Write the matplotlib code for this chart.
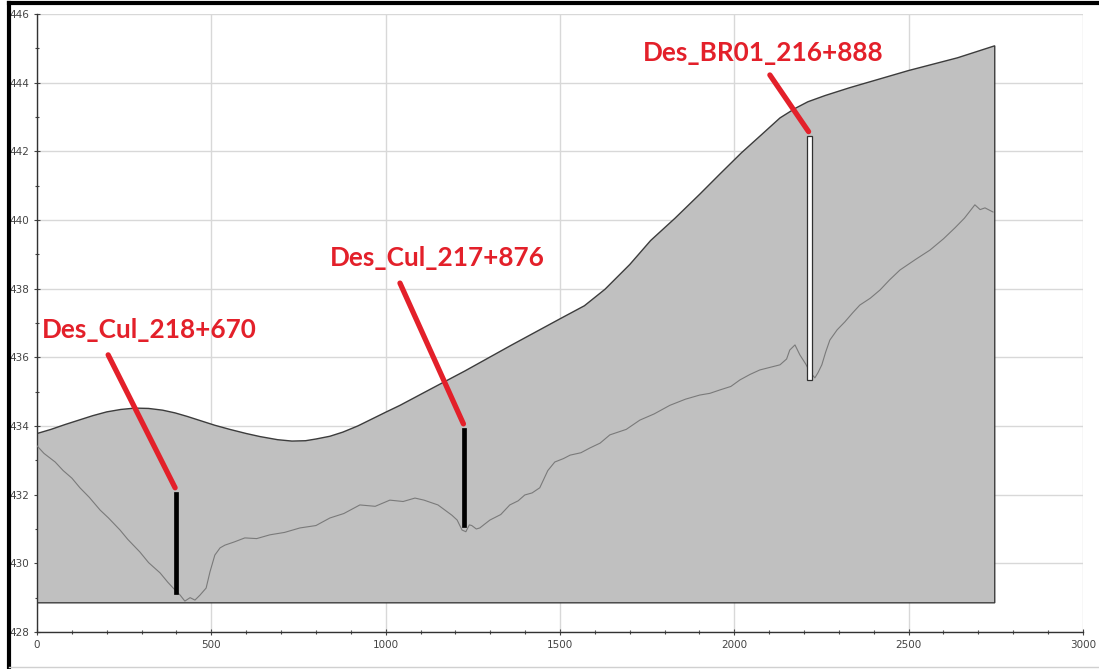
import numpy as np
import matplotlib.pyplot as plt
from matplotlib.lines import Line2D

# design surface (top of the grey section)
surf_x = [0, 40, 80, 123, 160, 200, 240, 281, 320, 360, 396, 430, 470, 510,
          553, 600, 640, 690, 731, 770, 800, 840, 877, 920, 960, 1000, 1041,
          1130, 1227, 1360, 1500, 1570, 1629, 1700, 1760, 1830, 1901, 1960,
          2020, 2080, 2131, 2175, 2211, 2260, 2331, 2500, 2640, 2747]
surf_y = [433.78, 433.90, 434.04, 434.18, 434.30, 434.41, 434.48, 434.52,
          434.51, 434.46, 434.38, 434.28, 434.15, 434.02, 433.90, 433.78,
          433.69, 433.60, 433.56, 433.57, 433.62, 433.70, 433.82, 434.00,
          434.20, 434.40, 434.60, 435.08, 435.60, 436.35, 437.12, 437.50,
          437.98, 438.70, 439.40, 440.05, 440.75, 441.35, 441.95, 442.50,
          442.97, 443.25, 443.44, 443.62, 443.85, 444.35, 444.72, 445.07]
base_level = 428.85

# natural ground line
ground_x = [0, 20, 52, 75, 100, 123, 150, 181, 205, 238, 260, 295, 320, 353,
            375, 396, 410, 424, 439, 453, 467, 485, 496, 510, 525, 539, 565,
            596, 630, 668, 710, 754, 800, 840, 880, 926, 970, 1012, 1050,
            1084, 1110, 1127, 1150, 1170, 1190, 1205, 1219, 1230, 1240, 1247,
            1260, 1270, 1285, 1299, 1330, 1356, 1380, 1399, 1420, 1442, 1465,
            1485, 1510, 1529, 1560, 1586, 1615, 1643, 1690, 1729, 1770, 1815,
            1860, 1901, 1930, 1959, 1990, 2016, 2045, 2073, 2100, 2131, 2150,
            2159, 2174, 2188, 2205, 2217, 2231, 2240, 2251, 2262, 2274, 2295,
            2317, 2340, 2360, 2390, 2418, 2445, 2475, 2520, 2561, 2600, 2633,
            2660, 2690, 2705, 2719, 2742]
ground_y = [433.42, 433.20, 432.95, 432.70, 432.48, 432.20, 431.92, 431.55,
            431.32, 430.97, 430.70, 430.33, 430.02, 429.72, 429.45, 429.22,
            429.08, 428.90, 429.00, 428.93, 429.07, 429.28, 429.75, 430.24,
            430.45, 430.53, 430.62, 430.74, 430.72, 430.83, 430.90, 431.03,
            431.10, 431.32, 431.45, 431.70, 431.66, 431.84, 431.80, 431.90,
            431.84, 431.78, 431.70, 431.55, 431.40, 431.26, 430.97, 430.92,
            431.12, 431.10, 431.00, 431.03, 431.15, 431.26, 431.42, 431.70,
            431.82, 431.99, 432.05, 432.20, 432.70, 432.95, 433.05, 433.15,
            433.22, 433.36, 433.50, 433.74, 433.90, 434.17, 434.35, 434.60,
            434.78, 434.90, 434.95, 435.05, 435.15, 435.34, 435.50, 435.63,
            435.70, 435.78, 435.95, 436.21, 436.36, 436.07, 435.80, 435.57,
            435.40, 435.55, 435.78, 436.15, 436.50, 436.80, 437.03, 437.30,
            437.52, 437.72, 437.96, 438.25, 438.54, 438.85, 439.12, 439.45,
            439.77, 440.05, 440.44, 440.30, 440.35, 440.23]

# drainage / bridge structures
struct_names = ['Des_Cul_218+670', 'Des_Cul_217+876', 'Des_BR01_216+888']
struct_x = [398, 1225, 2215]
struct_top = [432.08, 433.94, 442.45]
struct_bottom = [429.10, 431.06, 435.35]

fig = plt.figure(figsize=(10.99, 6.69), dpi=100)
ax = fig.add_axes([0.0337, 0.0553, 0.9517, 0.924])

ax.set_axisbelow(True)
ax.grid(True, which='major', color='#d8d8d8', linewidth=1.0, zorder=0)

poly_x = [0] + surf_x + [surf_x[-1], 0]
poly_y = [surf_y[0]] + surf_y + [base_level, base_level]
ax.fill(poly_x, poly_y, facecolor='#c0c0c0', edgecolor='#3c3c3c',
        linewidth=1.0, zorder=2)

ax.plot(ground_x, ground_y, color='#7a7a7a', linewidth=0.8, zorder=3)

# culverts as solid black bars, bridge as white bar with black outline
for i, name in enumerate(struct_names):
    h = struct_top[i] - struct_bottom[i]
    if 'BR' in name:
        ax.bar(struct_x[i], h, bottom=struct_bottom[i], width=14,
               color='white', edgecolor='#303030', linewidth=0.9, zorder=4)
    else:
        ax.bar(struct_x[i], h, bottom=struct_bottom[i], width=11,
               color='black', edgecolor='black', linewidth=0.5, zorder=4)

# red callouts
label_pos = [(14, 436.8), (840, 438.9), (1738, 444.86)]
leader_start = [(204, 436.07), (1041, 438.16), (2102, 444.22)]
red = '#e3202a'
for i, name in enumerate(struct_names):
    ax.text(label_pos[i][0], label_pos[i][1], name, color=red,
            fontsize=18.8, fontweight='bold', family=['Lato', 'DejaVu Sans'],
            ha='left', va='center', zorder=6)
    ax.plot([leader_start[i][0], struct_x[i] - 2],
            [leader_start[i][1], struct_top[i] + 0.12],
            color=red, linewidth=3.8, solid_capstyle='round', zorder=5)

ax.set_xlim(0, 3000)
ax.set_ylim(428, 446)
ax.set_xticks(np.arange(0, 3001, 500))
ax.set_xticks(np.arange(0, 3001, 100), minor=True)
ax.set_yticks(np.arange(428, 447, 2))
ax.set_yticks(np.arange(428, 447, 1), minor=True)
ax.tick_params(axis='both', which='major', labelsize=7.5, colors='#444444',
               length=4, width=0.8, direction='inout')
ax.tick_params(axis='both', which='minor', length=3, width=0.8,
               direction='inout', colors='#444444')

for side in ['top', 'right']:
    ax.spines[side].set_visible(False)
for side in ['left', 'bottom']:
    ax.spines[side].set_color('#333333')
    ax.spines[side].set_linewidth(1.0)

# screenshot frame: thick black on top and left, light grey at bottom
fig.add_artist(Line2D([0.0085, 0.9985], [0.995, 0.995], color='black',
                      linewidth=3.0, transform=fig.transFigure))
fig.add_artist(Line2D([0.0085, 0.0085], [0.0, 0.996], color='black',
                      linewidth=3.0, transform=fig.transFigure))
fig.add_artist(Line2D([0.0085, 1.0], [0.003, 0.003], color='#d0d0d0',
                      linewidth=1.0, transform=fig.transFigure))

plt.savefig('out.png', dpi=100)
